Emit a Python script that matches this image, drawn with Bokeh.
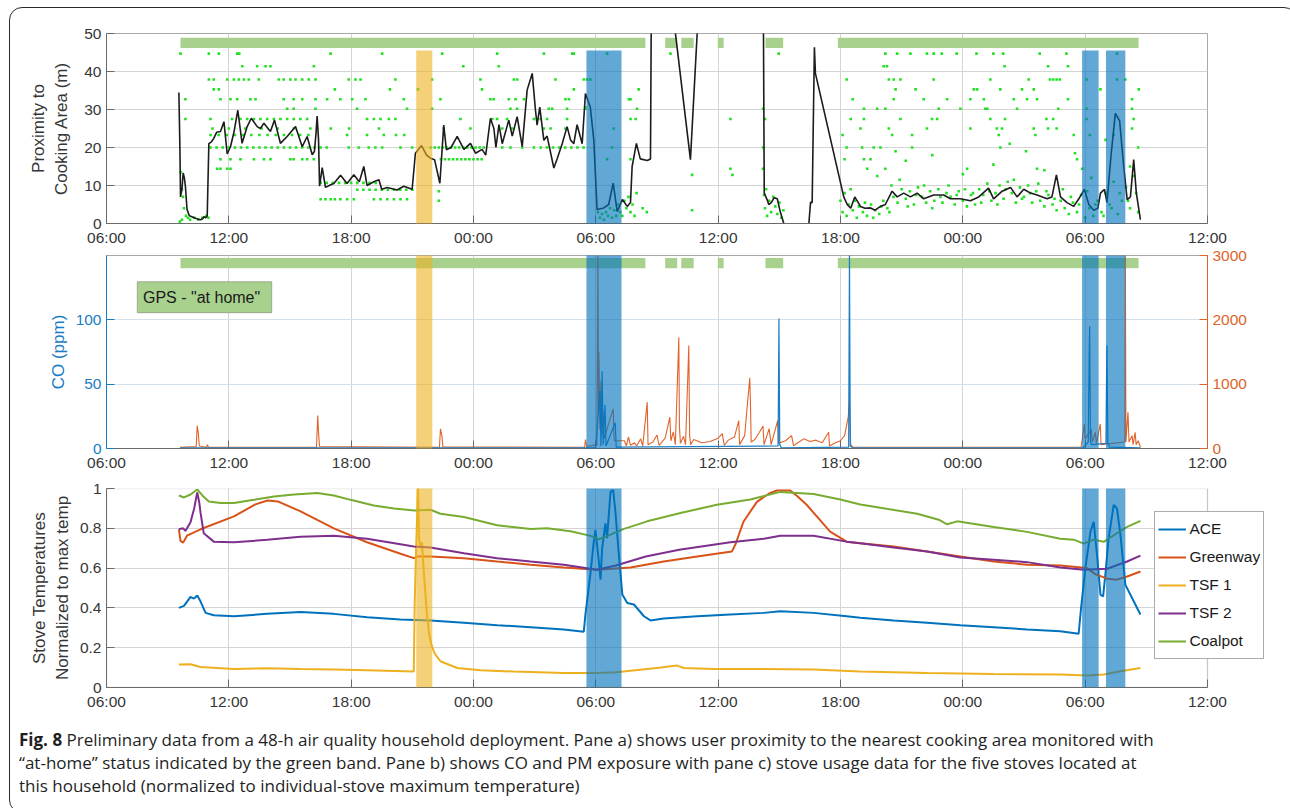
import math
from bokeh.plotting import figure
from bokeh.models import (Range1d, FixedTicker, LinearAxis, BoxAnnotation, Label, Div,
                          Legend, LegendItem)
from bokeh.layouts import column
from bokeh.embed import file_html
from bokeh.resources import INLINE

NAN = float("nan")

# ---------------------------------------------------------------- data
# x = hours after 06:00 on day 1
tick_hours = [0, 6, 12, 18, 24, 30, 36, 42, 48, 54]
tick_labels = ["06:00", "12:00", "18:00", "00:00", "06:00",
               "12:00", "18:00", "00:00", "06:00", "12:00"]

home_start = [3.63, 27.40, 28.19, 29.98, 32.32, 35.87]
home_end = [26.43, 27.99, 28.80, 30.27, 33.19, 50.62]

tsf1_use_start = [15.19]
tsf1_use_end = [15.98]
ace_use_start = [23.54, 47.85, 49.02]
ace_use_end = [25.26, 48.66, 49.97]

# pane a: smoothed proximity (m)
proximity = [
    (3.55, 34.5), (3.60, 20), (3.63, 7.0), (3.70, 9), (3.76, 13.3), (3.82, 12), (3.87, 9.8),
    (3.95, 3.7), (4.05, 2.2), (4.12, 1.9), (4.40, 1.3), (4.61, 1.0), (4.70, 1.2), (4.78, 1.8),
    (4.86, 1.5), (4.94, 2.0), (5.02, 21.0), (5.15, 21.5), (5.26, 22.4), (5.40, 24), (5.59, 24.2),
    (5.76, 26.8), (5.92, 18.3), (6.08, 20.2), (6.25, 24), (6.44, 29.8), (6.65, 21.1), (6.90, 25.5),
    (7.10, 27.7), (7.39, 25.5), (7.55, 25.0), (7.72, 26.4), (8.04, 24.2), (8.24, 27.2), (8.53, 21.1),
    (8.86, 22.9), (9.27, 25.5), (9.60, 20.2), (9.84, 22.9), (10.09, 18.1), (10.20, 19.0),
    (10.28, 24), (10.33, 28.3), (10.40, 22), (10.45, 9.8), (10.58, 14.7), (10.74, 9.5),
    (11.00, 10.2), (11.15, 10.5), (11.48, 12.7), (11.80, 10.5), (12.13, 12.8), (12.40, 11.0),
    (12.62, 15.0), (12.78, 10.0), (13.11, 11.0), (13.36, 11.5), (13.50, 9.0), (13.77, 9.5),
    (14.25, 8.8), (14.58, 9.8), (14.99, 9.0), (15.15, 18.5), (15.45, 20.5), (15.70, 18.0),
    (15.89, 17.2), (16.09, 16.8), (16.35, 10.6), (16.54, 25.9), (16.67, 19.4), (16.90, 20),
    (17.20, 22.9), (17.53, 19.5), (17.85, 21.1), (18.10, 18.5), (18.42, 19.5), (18.60, 18.0),
    (18.83, 27.7), (19.00, 25.0), (19.10, 20.0), (19.25, 26.0), (19.41, 21.0), (19.73, 27.2),
    (19.90, 23.0), (20.14, 28.1), (20.39, 20.2), (20.63, 35.1), (20.88, 39.5), (21.04, 29.8),
    (21.12, 25.9), (21.25, 30.6), (21.45, 21.9), (21.61, 23.0), (21.94, 14.6), (22.10, 17.0),
    (22.35, 21.0), (22.59, 25.5), (22.76, 22.0), (22.92, 21.0), (23.08, 26.0), (23.33, 21.0),
    (23.49, 34.2), (23.73, 30.6), (23.90, 22.0), (24.06, 3.7), (24.39, 4.1), (24.63, 5.0),
    (24.85, 10.6), (25.05, 3.1), (25.30, 6.3), (25.54, 4.5), (25.70, 5.5), (25.78, 15.0),
    (25.99, 21.1), (26.18, 17.0), (26.52, 16.6), (26.68, 17.0), (26.74, 75.0), (27.55, 66.0),
    (28.64, 16.8), (28.97, 50.0), (29.10, 75.0), (32.20, 75.0), (32.26, 8.0), (32.40, 6.3),
    (32.48, 5.0), (32.60, 5.5), (32.75, 6.8), (32.90, 6.5), (33.05, 3.0), (33.22, 0.0),
    (33.30, NAN), (34.45, 0.0), (34.53, 5.6), (34.61, 5.5), (34.72, 46.4), (34.77, 39.5),
    (36.16, 7.0), (36.33, 5.0), (36.50, 4.0), (36.70, 7.0), (36.98, 4.5), (37.20, 4.0),
    (37.47, 4.1), (37.70, 3.5), (37.96, 4.5), (38.20, 5.0), (38.53, 8.5), (38.78, 7.0),
    (39.10, 8.0), (39.43, 7.0), (39.76, 8.0), (40.08, 6.5), (40.57, 7.5), (41.06, 7.5),
    (41.39, 6.5), (41.88, 6.5), (42.37, 6.0), (42.78, 7.0), (43.26, 9.3), (43.51, 6.5),
    (43.93, 8.5), (44.34, 9.5), (44.66, 7.0), (44.99, 9.0), (45.32, 8.0), (45.64, 7.5),
    (46.13, 6.5), (46.37, 7.0), (46.59, 12.8), (46.79, 7.0), (47.11, 5.5), (47.44, 4.5),
    (47.69, 6.5), (47.96, 9.0), (48.18, 5.0), (48.42, 3.5), (48.62, 4.0), (48.75, 8.0),
    (48.95, 9.0), (49.07, 5.5), (49.27, 18.0), (49.48, 29.0), (49.69, 27.0), (49.89, 15.0),
    (50.06, 6.3), (50.22, 7.0), (50.38, 16.8), (50.51, 8.0), (50.71, 1.0),
]

# pane a: raw position fixes, grouped by the distance level they sit on
dot_rows = [
    (44.7, [3.63, 5.02, 5.51, 6.41, 6.51, 10.99, 13.52, 16.46, 19.16, 21.45, 22.84, 22.92, 24.55,
            27.66, 32.97, 38.2, 38.78, 39.43, 40.24, 40.57, 40.97, 41.7, 42.67, 43.5, 43.98,
            45.77, 47.08, 49.56]),
    (41.4, [6.66, 7.39, 7.8, 8.04, 10.17, 17.5, 19.24, 38.12, 38.28, 44.05, 46.18, 47.16]),
    (37.9, [5.02, 5.26, 5.92, 6.25, 6.49, 6.74, 6.98, 7.47, 8.45, 8.69, 9.02, 9.27, 9.6, 9.92,
            10.25, 11.88, 12.21, 12.46, 14.17, 15.97, 18.34, 19.98, 20.14, 22.02, 23.41, 23.57,
            23.73, 36.3, 38.37, 38.61, 38.94, 40.57, 43.35, 45.23, 46.27, 46.43, 46.6, 46.76,
            48.07, 49.56, 49.97]),
    (35.3, [5.26, 5.51, 11.2, 13.9, 15.28, 18.42, 22.92, 26.1, 38.7, 39.68, 42.54, 42.7, 43.84,
            44.9, 45.48, 48.75, 50.63]),
    (32.7, [3.87, 5.59, 6.08, 6.41, 7.06, 7.31, 8.69, 9.18, 9.6, 10.25, 10.82, 11.47, 12.05,
            12.7, 14.58, 16.38, 18.83, 18.99, 19.73, 20.06, 20.47, 22.51, 22.68, 25.62, 25.7,
            36.6, 38.61, 40.08, 41.23, 42.37, 43.03, 44.5, 45.15, 45.64, 47.16, 50.3]),
    (30.2, [8.86, 9.18, 10.25, 12.29, 14.74, 15.97, 19.81, 20.14, 21.69, 21.86, 22.59, 23.49,
            26.02, 32.2, 37.15, 37.8, 38.2, 40.82, 41.88, 43.1, 43.2, 44.66, 46.68, 48.07, 50.3]),
    (27.5, [3.87, 5.1, 6.16, 6.57, 6.9, 7.23, 7.55, 7.88, 8.21, 8.53, 8.86, 9.18, 9.51, 9.84,
            12.78, 13.11, 13.44, 13.85, 14.17, 17.36, 18.92, 19.16, 19.65, 20.96, 21.29, 21.61,
            22.59, 25.7, 25.95, 30.6, 32.3, 36.5, 37.15, 38.94, 40.49, 40.74, 43.35, 44.07, 46.1,
            46.43, 48.07, 50.38]),
    (25.0, [5.2, 6.0, 6.8, 7.6, 8.4, 9.2, 10.0, 11.0, 11.9, 13.36, 16.54, 17.85, 19.41, 19.9,
            21.45, 21.78, 22.51, 24.88, 36.98, 38.37, 40.24, 42.37, 43.67, 43.92, 45.48, 46.18,
            46.6, 50.3]),
    (23.3, [5.1, 5.5, 5.9, 6.3, 6.7, 7.1, 7.5, 7.9, 8.3, 8.7, 9.1, 9.5, 9.9, 11.8, 12.78, 13.6,
            14.2, 14.6, 36.1, 38.53, 39.51, 43.76, 45.56, 47.44, 48.23, 49.4]),
    (20.0, [5.1, 5.4, 5.7, 6.0, 6.3, 6.6, 6.9, 7.2, 7.5, 7.8, 8.1, 8.4, 8.7, 9.0, 9.3, 9.6, 9.9,
            10.2, 10.5, 10.8, 11.88, 12.37, 12.86, 13.19, 13.52, 14.42, 14.99, 15.9, 16.1, 16.3,
            16.5, 16.7, 16.9, 17.1, 17.3, 17.5, 17.7, 17.9, 18.1, 18.3, 18.5, 19.41, 19.81, 20.39,
            20.96, 21.3, 21.6, 21.9, 22.2, 22.5, 22.8, 23.1, 23.4, 24.8, 32.2, 36.3, 37.06, 37.63,
            37.96, 39.51, 43.84]),
    (16.9, [5.59, 6.08, 6.57, 7.23, 7.72, 8.04, 9.02, 9.18, 9.6, 9.84, 10.17, 16.4, 16.6, 16.8,
            17.0, 17.2, 17.4, 17.6, 17.8, 18.0, 18.2, 18.4, 24.55, 25.7, 36.2, 37.15, 37.47,
            47.6]),
    (14.4, [5.43, 5.59, 5.92, 6.08, 30.6, 32.2, 37.31, 38.2, 42.21, 45.64, 47.85]),
    (10.7, [10.5, 10.8, 11.1, 11.4, 11.7, 12.0, 12.3, 12.6, 12.9, 13.2]),
    (8.9, [12.3, 12.6, 12.9, 13.2, 13.5, 13.8, 14.1, 14.4, 14.7, 15.0]),
    (6.4, [10.5, 10.74, 11.0, 11.2, 11.47, 11.8, 12.13, 13.11, 13.44, 13.77, 14.1, 14.42, 14.74]),
]
dot_extra = [
    (3.6, 0.5), (3.7, 1), (3.8, 4), (3.9, 2), (4.0, 1.5), (4.1, 1), (4.3, 1.5), (4.5, 1),
    (4.7, 1.5), (4.9, 2), (5.0, 1.5), (3.65, 13.5), (3.7, 9), (3.75, 7), (16.3, 8.5), (16.3, 6),
    (28.72, 12.8), (28.72, 3.5), (30.7, 12.8), (23.49, 30.6), (24.1, 3), (24.2, 1.5), (24.3, 2.5),
    (24.4, 1), (24.5, 3), (24.6, 2), (24.7, 4), (24.8, 1.5), (24.9, 3.5), (25.0, 2), (25.1, 5),
    (25.2, 3), (25.3, 2), (25.4, 6), (25.5, 4), (25.6, 7), (25.7, 3), (25.8, 5), (25.9, 2),
    (26.0, 8), (26.3, 4), (26.5, 3), (32.25, 7.5), (32.3, 4), (32.35, 9), (32.4, 2), (32.5, 6),
    (32.6, 3), (32.7, 7), (32.8, 4.5), (32.9, 2.5), (33.0, 5.5), (33.1, 1.5), (33.2, 3.5),
    (36.0, 6), (36.1, 3), (36.2, 8), (36.3, 2), (36.4, 5), (36.5, 9), (36.6, 3.5), (36.7, 6),
    (36.8, 1.5), (36.9, 4.5), (37.1, 3), (37.3, 2), (37.5, 5), (37.7, 3.5), (37.9, 2.5), (38.1, 6),
    (38.3, 4), (38.5, 10), (38.6, 7), (38.8, 5.5), (39.0, 9), (39.2, 6.5), (39.4, 8.5), (39.6, 5),
    (39.8, 9.5), (40.0, 7), (40.2, 5.5), (40.4, 8.5), (40.6, 6), (40.8, 9), (41.0, 5.5), (41.2, 8),
    (41.4, 7), (41.6, 5), (41.8, 8.5), (42.0, 6), (42.2, 4.5), (42.4, 7.5), (42.6, 5), (42.8, 9),
    (43.0, 7.5), (43.2, 10.5), (43.4, 6), (43.6, 8), (43.8, 10), (44.0, 6.5), (44.2, 11),
    (44.4, 8), (44.6, 5.5), (44.8, 9.5), (45.0, 7), (45.2, 10), (45.4, 5.5), (45.6, 8.5),
    (45.8, 6), (46.0, 4.5), (46.2, 7.5), (46.4, 5), (46.6, 3.5), (46.8, 6), (47.0, 4), (47.2, 2.5),
    (47.4, 5.5), (47.6, 3), (47.8, 7.5), (48.0, 1.5), (48.2, 4), (48.4, 2), (48.6, 6), (48.8, 3),
    (49.0, 8), (49.2, 5), (49.4, 11), (49.6, 2.5), (49.8, 6), (50.0, 9.5), (50.2, 4), (50.4, 12.5),
    (50.6, 3), (37.2, 5.5), (37.6, 1.5), (38.0, 4.5), (38.4, 3), (38.9, 11.5), (39.3, 4.5),
    (39.7, 7.5), (40.1, 10), (40.5, 4), (40.9, 7), (41.3, 10), (41.7, 7.5), (42.1, 9), (42.5, 8),
    (42.9, 5.5), (43.3, 8.5), (43.7, 5), (44.1, 9), (44.5, 11.5), (44.9, 6.5), (45.3, 8),
    (45.7, 10.5), (46.1, 8.5), (46.5, 6.5), (46.9, 9), (47.3, 7), (47.7, 5), (48.1, 8.5),
    (48.5, 5), (48.9, 2), (49.3, 4), (49.7, 8), (50.1, 6), (50.5, 8), (37.8, 12.5), (38.7, 19.0),
    (39.2, 16.5), (40.5, 18), (42.0, 13), (43.5, 15.5), (44.3, 21), (45.1, 19), (46.0, 14),
    (47.5, 18.5), (48.3, 12), (49.0, 22), (50.2, 15), (50.6, 20),
]

# pane b: CO (ppm) and PM (counts)
co_series = [
    (3.6, 0.5), (23.9, 0.5), (24.0, 1), (24.2, 45), (24.25, 2), (24.31, 60), (24.36, 3),
    (24.45, 34), (24.5, 2), (24.95, 20), (25.0, 1), (32.94, 2), (32.98, 101), (33.02, 3),
    (33.1, 0.5), (36.40, 1), (36.44, 152), (36.48, 2), (36.6, 0.5), (47.9, 0.5), (48.15, 5),
    (48.2, 77), (48.22, 95), (48.26, 6), (48.3, 3), (49.02, 4), (49.05, 57), (49.07, 80),
    (49.11, 4), (49.2, 1), (50.71, 0.5),
]
pm_series = [
    (3.6, 20), (4.40, 30), (4.45, 357), (4.50, 250), (4.55, 40), (4.90, 20), (4.95, 60), (5.0, 20),
    (10.30, 20), (10.36, 513), (10.40, 250), (10.45, 30), (16.33, 20), (16.38, 306), (16.45, 200),
    (16.5, 25), (23.45, 20), (23.49, 140), (23.55, 30), (24.05, 60), (24.10, 3100), (24.13, 600),
    (24.15, 1496), (24.2, 300), (24.25, 1057), (24.3, 200), (24.35, 590), (24.4, 150),
    (24.85, 617), (24.9, 120), (25.4, 120), (25.5, 40), (25.6, 180), (25.7, 50), (25.9, 90),
    (26.0, 40), (26.2, 150), (26.3, 40), (26.52, 720), (26.56, 60), (26.8, 100), (27.0, 210),
    (27.1, 50), (27.4, 160), (27.63, 487), (27.68, 120), (27.8, 260), (27.9, 60), (28.07, 1730),
    (28.1, 340), (28.15, 80), (28.3, 190), (28.4, 60), (28.56, 1600), (28.6, 200), (28.65, 60),
    (28.8, 140), (29.2, 90), (29.6, 110), (30.0, 160), (30.2, 230), (30.3, 50), (30.5, 130),
    (30.8, 180), (31.01, 435), (31.05, 60), (31.3, 200), (31.55, 1099), (31.58, 750),
    (31.62, 100), (31.8, 140), (32.0, 240), (32.2, 350), (32.25, 60), (32.5, 310), (32.6, 60),
    (32.92, 435), (32.96, 80), (33.3, 120), (33.6, 200), (33.7, 40), (33.9, 90), (34.2, 150),
    (34.5, 110), (34.8, 130), (35.1, 90), (35.42, 253), (35.46, 40), (35.7, 80), (36.0, 120),
    (36.2, 200), (36.38, 490), (36.44, 746), (36.5, 60), (36.6, 20), (47.8, 20), (47.96, 380),
    (48.0, 150), (48.3, 300), (48.35, 100), (48.5, 250), (48.55, 80), (48.74, 380), (48.78, 60),
    (49.95, 100), (49.97, 3100), (50.0, 100), (50.1, 565), (50.15, 100), (50.3, 200),
    (50.35, 60), (50.45, 250), (50.5, 60), (50.6, 120), (50.71, 20),
]

# pane c: normalised stove temperatures
stove_names = ["ACE", "Greenway", "TSF 1", "TSF 2", "Coalpot"]
ace = [
    (3.55, 0.40), (3.80, 0.41), (4.12, 0.455), (4.29, 0.447), (4.45, 0.462), (4.61, 0.433),
    (4.86, 0.375), (5.26, 0.363), (6.25, 0.358), (7.88, 0.37), (9.52, 0.38), (11.15, 0.37),
    (12.78, 0.353), (14.42, 0.342), (15.89, 0.337), (17.53, 0.325), (19.16, 0.313), (20.80, 0.303),
    (22.43, 0.292), (23.41, 0.28), (23.49, 0.367), (23.73, 0.567), (23.90, 0.733), (23.98, 0.792),
    (24.15, 0.633), (24.23, 0.542), (24.31, 0.70), (24.47, 0.825), (24.55, 0.75), (24.72, 0.983),
    (24.85, 0.992), (24.96, 0.883), (25.13, 0.667), (25.30, 0.467), (25.54, 0.425), (25.87, 0.417),
    (26.36, 0.358), (26.68, 0.337), (27.33, 0.347), (28.97, 0.358), (30.60, 0.367), (32.24, 0.375),
    (33.05, 0.383), (34.68, 0.375), (36.30, 0.358), (36.97, 0.35), (38.61, 0.337), (40.25, 0.325),
    (41.88, 0.313), (43.51, 0.303), (45.15, 0.292), (46.78, 0.283), (47.68, 0.27), (47.80, 0.40),
    (48.01, 0.60), (48.26, 0.783), (48.42, 0.833), (48.58, 0.667), (48.75, 0.467), (48.88, 0.458),
    (48.99, 0.567), (49.15, 0.75), (49.40, 0.917), (49.56, 0.90), (49.73, 0.767), (49.97, 0.517),
    (50.30, 0.45), (50.71, 0.367),
]
greenway = [
    (3.55, 0.795), (3.63, 0.737), (3.76, 0.728), (3.95, 0.763), (4.61, 0.795), (6.25, 0.86),
    (7.30, 0.92), (7.90, 0.94), (8.40, 0.935), (9.52, 0.885), (11.15, 0.80), (12.78, 0.73),
    (14.42, 0.672), (15.07, 0.65), (15.23, 0.658), (15.89, 0.658), (17.53, 0.65), (19.16, 0.633),
    (20.80, 0.617), (22.43, 0.603), (24.06, 0.592), (25.70, 0.603), (27.33, 0.633), (28.97, 0.658),
    (30.67, 0.683), (30.85, 0.72), (31.24, 0.833), (31.90, 0.933), (32.50, 0.975), (32.88, 0.99),
    (33.53, 0.99), (33.90, 0.96), (34.35, 0.917), (35.49, 0.783), (36.30, 0.733), (36.97, 0.725),
    (38.61, 0.708), (40.25, 0.683), (41.88, 0.658), (43.51, 0.633), (45.15, 0.617), (46.78, 0.613),
    (48.09, 0.60), (48.50, 0.57), (49.07, 0.547), (49.56, 0.542), (50.06, 0.558), (50.71, 0.583),
]
tsf1 = [
    (3.55, 0.115), (4.12, 0.117), (4.61, 0.103), (6.25, 0.093), (7.88, 0.097), (9.52, 0.093),
    (11.15, 0.09), (12.78, 0.087), (15.07, 0.08), (15.12, 0.44), (15.20, 0.75), (15.28, 1.0),
    (15.33, 0.75), (15.40, 0.70), (15.47, 0.73), (15.55, 0.60), (15.62, 0.50), (15.72, 0.36),
    (15.82, 0.27), (15.95, 0.21), (16.10, 0.17), (16.38, 0.132), (17.20, 0.098), (18.35, 0.087),
    (19.98, 0.08), (22.43, 0.073), (24.06, 0.073), (25.00, 0.077), (26.52, 0.093), (27.20, 0.10),
    (27.66, 0.107), (27.99, 0.11), (28.32, 0.098), (29.79, 0.093), (32.24, 0.093), (34.68, 0.09),
    (36.97, 0.08), (40.25, 0.073), (43.51, 0.068), (46.78, 0.065), (48.09, 0.06), (48.91, 0.065),
    (49.73, 0.082), (50.71, 0.098),
]
tsf2 = [
    (3.55, 0.795), (3.76, 0.80), (3.87, 0.787), (4.12, 0.83), (4.30, 0.90), (4.45, 0.98),
    (4.55, 0.93), (4.61, 0.88), (4.77, 0.775), (5.26, 0.733), (6.25, 0.73), (7.88, 0.742),
    (9.52, 0.758), (11.15, 0.763), (12.78, 0.747), (14.42, 0.72), (15.07, 0.708), (15.89, 0.703),
    (17.53, 0.675), (19.16, 0.65), (20.80, 0.633), (22.43, 0.617), (24.06, 0.592), (24.98, 0.613),
    (26.45, 0.658), (28.09, 0.692), (30.60, 0.73), (32.24, 0.747), (33.05, 0.763), (34.68, 0.763),
    (36.30, 0.733), (36.97, 0.725), (38.61, 0.703), (40.25, 0.683), (41.88, 0.653), (43.51, 0.642),
    (45.15, 0.63), (46.78, 0.603), (47.93, 0.592), (49.07, 0.597), (50.06, 0.633), (50.71, 0.663),
]
coalpot = [
    (3.55, 0.965), (3.80, 0.955), (4.12, 0.97), (4.45, 0.995), (4.70, 0.965), (5.02, 0.935),
    (5.60, 0.927), (6.25, 0.927), (7.23, 0.943), (8.21, 0.96), (9.20, 0.97), (10.34, 0.977),
    (11.15, 0.965), (11.97, 0.943), (13.11, 0.915), (14.10, 0.90), (15.10, 0.89), (15.89, 0.893),
    (16.38, 0.873), (17.53, 0.857), (19.16, 0.815), (20.80, 0.797), (21.61, 0.80), (22.76, 0.785),
    (23.74, 0.762), (24.15, 0.745), (24.72, 0.768), (25.38, 0.797), (26.52, 0.835), (28.15, 0.877),
    (29.94, 0.918), (31.58, 0.945), (33.05, 0.983), (34.68, 0.972), (35.99, 0.945), (36.97, 0.92),
    (37.96, 0.903), (39.76, 0.873), (40.82, 0.843), (41.23, 0.82), (41.72, 0.835), (43.51, 0.807),
    (45.15, 0.782), (46.78, 0.748), (47.44, 0.743), (47.93, 0.723), (48.42, 0.743), (48.91, 0.732),
    (49.40, 0.765), (50.06, 0.807), (50.71, 0.837),
]
stove_series = [ace, greenway, tsf1, tsf2, coalpot]

caption_html = ('<b>Fig. 8</b> Preliminary data from a 48-h air quality household deployment. '
                'Pane a) shows user proximity to the nearest cooking area monitored with<br>'
                '\u201cat-home\u201d status indicated by the green band. Pane b) shows CO and PM '
                'exposure with pane c) stove usage data for the five stoves located at<br>'
                'this household (normalized to individual-stove maximum temperature)')

# ---------------------------------------------------------------- style
FONT = "Liberation Sans"
TXT = "#363636"
AXL = "#6a6a6a"
GRID = "#d4d4d4"
OUTLINE = "#a8a8a8"
HOME_C = "#a9d18e"
TSF1_BAND = "#EDB120"
ACE_BAND = "#0072BD"
CO_C = "#1a7cc4"
PM_C = "#e0642a"
stove_colors = ["#0072BD", "#D95319", "#EDB120", "#7E2F8E", "#77AC30"]

W = 1276
LB, RB = 96, 79
FRAME_W = W - LB - RB           # 1101 px for 54 h
X_END = tick_hours[-1]

xr = Range1d(0, X_END)
x_ticker = FixedTicker(ticks=tick_hours)
x_over = {h: lab for h, lab in zip(tick_hours, tick_labels)}


def unzip(pairs):
    return [a for a, _ in pairs], [b for _, b in pairs]


def style_axis(ax, color=TXT, line=AXL):
    ax.major_label_text_font = FONT
    ax.major_label_text_font_size = "15.5px"
    ax.major_label_text_color = color
    ax.axis_line_color = line
    ax.major_tick_line_color = line
    ax.major_tick_in = 8
    ax.major_tick_out = 0
    ax.minor_tick_line_color = None
    ax.major_label_standoff = 5
    ax.axis_label_text_font = FONT
    ax.axis_label_text_font_size = "17px"
    ax.axis_label_text_font_style = "normal"
    ax.axis_label_text_color = color


def make_fig(height, top, bottom, y_range, x_range=xr, rb=RB):
    p = figure(width=W, height=height, x_range=x_range, y_range=y_range,
               output_backend="svg", toolbar_location=None,
               min_border_left=LB, min_border_right=rb,
               min_border_top=top, min_border_bottom=bottom,
               border_fill_alpha=0, outline_line_color=OUTLINE)
    ax = p.xaxis[0]
    ax.ticker = x_ticker
    ax.major_label_overrides = x_over
    style_axis(ax)
    p.xgrid.ticker = x_ticker
    p.xgrid.grid_line_color = GRID
    p.ygrid.grid_line_color = GRID
    return p


def bands(p, top_val, bottom_val):
    for s, e in zip(tsf1_use_start, tsf1_use_end):
        p.add_layout(BoxAnnotation(left=s, right=e, top=top_val, bottom=bottom_val,
                                   fill_color=TSF1_BAND, fill_alpha=0.6, line_color=None,
                                   level="overlay"))
    for s, e in zip(ace_use_start, ace_use_end):
        p.add_layout(BoxAnnotation(left=s, right=e, top=top_val, bottom=bottom_val,
                                   fill_color=ACE_BAND, fill_alpha=0.62, line_color=None,
                                   level="overlay"))


# ---------------------------------------------------------------- pane a
pa = make_fig(240, 25, 24, Range1d(0, 50))
ya = pa.yaxis[0]
ya.ticker = FixedTicker(ticks=[0, 10, 20, 30, 40, 50])
style_axis(ya)
ya.axis_label = "Proximity to\nCooking Area (m)"
ya.axis_label_standoff = 10
pa.ygrid.ticker = ya.ticker

pa.quad(left=home_start, right=home_end, bottom=46.2, top=48.9,
        fill_color=HOME_C, line_color=None)
dx, dy = [], []
for lev, hours in dot_rows:
    for h in hours:
        dx.append(h)
        dy.append(lev)
for h, v in dot_extra:
    dx.append(h)
    dy.append(v)
pa.scatter(dx, dy, marker="square", size=2.6, fill_color="#22e022", line_color=None)
px_, py_ = unzip(proximity)
pa.line(px_, py_, line_color="#1c1c1c", line_width=1.6)
bands(pa, 45.5, -500)

# ---------------------------------------------------------------- pane b
pb = make_fig(228, 7, 28, Range1d(0, 150))
yb = pb.yaxis[0]
yb.ticker = FixedTicker(ticks=[0, 50, 100])
style_axis(yb, color=CO_C, line=CO_C)
yb.axis_label = "CO (ppm)"
pb.ygrid.ticker = yb.ticker
pb.ygrid.grid_line_color = "#d3dfe9"
pb.extra_y_ranges = {"pm": Range1d(0, 3000)}
yr = LinearAxis(y_range_name="pm", ticker=FixedTicker(ticks=[0, 1000, 2000, 3000]))
style_axis(yr, color=PM_C, line=PM_C)
pb.add_layout(yr, "right")
pb.quad(left=home_start, right=home_end, bottom=140, top=148,
        fill_color=HOME_C, line_color=None)
pt, pv = unzip(pm_series)
pb.line(pt, pv, y_range_name="pm", line_color=PM_C, line_width=1.1)
ct, cv = unzip(co_series)
pb.line(ct, cv, line_color=CO_C, line_width=1.2)
pb.add_layout(BoxAnnotation(left=30.8, right=165.2, bottom=135.8, top=166.8,
                            left_units="screen", right_units="screen",
                            bottom_units="screen", top_units="screen",
                            fill_color=HOME_C, fill_alpha=1, line_color="#4a4a4a",
                            line_width=1.2))
pb.add_layout(Label(x=36.5, y=151.3, x_units="screen", y_units="screen",
                    text='GPS - "at home"', text_font=FONT, text_font_size="16px",
                    text_color="#1a1a1a", text_baseline="middle", text_align="left"))
pb.add_layout(Label(x=1156.5, y=96.5, x_units="screen", y_units="screen",
                    text="PM (counts)", angle=math.pi / 2, text_font=FONT,
                    text_font_size="17px", text_color=PM_C,
                    text_align="center", text_baseline="middle"))
bands(pb, 1e5, -1e5)

# ---------------------------------------------------------------- pane c
# the frame is widened (same px per hour) so that the legend, which overhangs the
# axes box in the original, can sit inside it; the visible box still ends at 12:00.
RB_C = 16
FRAME_W_C = W - LB - RB_C
pc = make_fig(237, 12, 26, Range1d(0, 1),
              x_range=Range1d(0, X_END * FRAME_W_C / FRAME_W), rb=RB_C)
try:
    pc.frame_align = False
except Exception:
    pass
pc.outline_line_color = None
pc.xaxis.bounds = (0, X_END)
yc = pc.yaxis[0]
yc_ticks = [0, 0.2, 0.4, 0.6, 0.8, 1]
yc.ticker = FixedTicker(ticks=yc_ticks)
yc.major_label_overrides = {0: "0", 0.2: "0.2", 0.4: "0.4", 0.6: "0.6", 0.8: "0.8", 1: "1"}
style_axis(yc)
yc.axis_label = "Stove Temperatures\nNormalized to max temp"
pc.ygrid.ticker = FixedTicker(ticks=yc_ticks[1:-1])
try:
    pc.ygrid.cross_bounds = (0, X_END)
except Exception:
    pass
pc.add_layout(BoxAnnotation(left=0, right=X_END, bottom=0, top=1, fill_alpha=0,
                            line_color=OUTLINE, line_width=1.5, level="underlay"))

items = []
for name, series, col in zip(stove_names, stove_series, stove_colors):
    t, v = unzip(series)
    r = pc.line(t, v, line_color=col, line_width=2)
    items.append(LegendItem(label=name, renderers=[r]))
bands(pc, 1e5, 0)

legend = Legend(items=items, location=(1047.5, 28.5), orientation="vertical",
                label_text_font=FONT, label_text_font_size="15.5px",
                label_text_color="#1a1a1a", label_text_baseline="middle",
                glyph_width=28, glyph_height=28, label_height=28, label_standoff=4,
                spacing=0, padding=3, margin=0, border_line_color="#5a5a5a",
                border_line_width=1, background_fill_color="white",
                background_fill_alpha=1)
pc.add_layout(legend, "center")

# ---------------------------------------------------------------- caption
cap = Div(text='<div style="font-family:\'Open Sans\';font-size:17px;line-height:23px;'
               'color:#1f1f1f;padding:10px 0 0 4px;white-space:nowrap;">' + caption_html + '</div>',
          width=W, height=89)

layout = column(pa, pb, pc, cap, margin=(7, 0, 0, 9),
                styles={"border": "1.5px solid #2b2b2b", "border-radius": "13px"})

open("out.html", "w").write(file_html(layout, INLINE))
